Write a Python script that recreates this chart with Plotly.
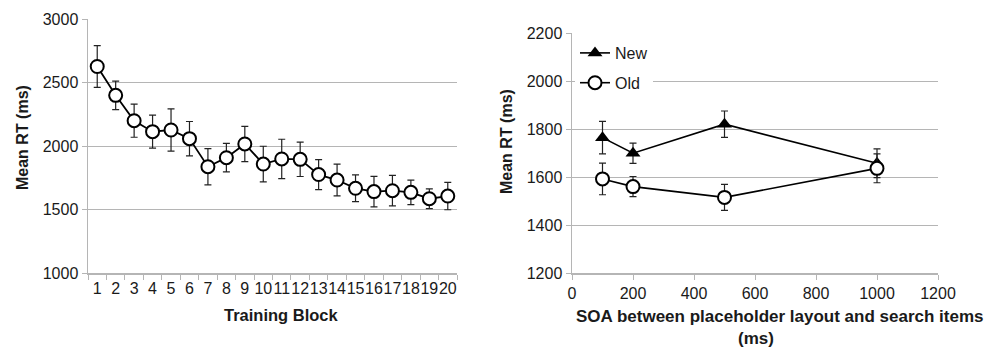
import plotly.graph_objects as go

# ---- data: left panel (training blocks) ----
blocks = [str(i) for i in range(1, 21)]
block_rt = [2626, 2399, 2199, 2113, 2126, 2058, 1837, 1908, 2016, 1858,
            1898, 1895, 1775, 1732, 1667, 1641, 1648, 1635, 1585, 1606]
block_err = [165, 112, 130, 130, 167, 135, 143, 112, 139, 140,
             155, 135, 118, 125, 105, 120, 120, 97, 78, 108]

# ---- data: right panel (SOA) ----
soa = [100, 200, 500, 1000]
new_rt = [1764, 1699, 1820, 1657]
new_err = [68, 42, 55, 60]
old_rt = [1592, 1560, 1515, 1636]
old_err = [66, 42, 54, 60]

W, H = 995, 347
FONT = "Liberation Sans, Arial, Helvetica, sans-serif"
GRID = "#b5b5b5"
TXT = "#1a1a1a"

def px(x):
    return x / W

def py(y):
    return 1 - y / H

fig = go.Figure()

marker_circle = dict(symbol="circle", size=13, color="white",
                     line=dict(color="black", width=2))

fig.add_trace(go.Scatter(
    x=blocks, y=block_rt, mode="lines+markers",
    line=dict(color="black", width=1.8),
    marker=marker_circle,
    error_y=dict(type="data", array=block_err, visible=True,
                 color="#222", thickness=1.2, width=3.5),
    xaxis="x", yaxis="y", showlegend=False))

fig.add_trace(go.Scatter(
    x=soa, y=new_rt, mode="lines+markers", name="New", legendgroup="new",
    line=dict(color="black", width=1.6),
    marker=dict(symbol="triangle-up", size=13, color="black"),
    error_y=dict(type="data", array=new_err, visible=True,
                 color="#222", thickness=1.2, width=3.5),
    xaxis="x2", yaxis="y2"))

fig.add_trace(go.Scatter(
    x=soa, y=old_rt, mode="lines+markers", name="Old", legendgroup="old",
    line=dict(color="black", width=1.6),
    marker=marker_circle,
    error_y=dict(type="data", array=old_err, visible=True,
                 color="#222", thickness=1.2, width=3.5),
    xaxis="x2", yaxis="y2"))

axis_common = dict(showline=True, linecolor=GRID, linewidth=1.5,
                   ticks="outside", ticklen=5, tickcolor=GRID, tickwidth=1,
                   tickfont=dict(family=FONT, size=16, color=TXT),
                   zeroline=False, automargin=False)

fig.update_layout(
    width=W, height=H, autosize=False,
    margin=dict(l=0, r=0, t=0, b=0, pad=0),
    paper_bgcolor="white", plot_bgcolor="white",
    font=dict(family=FONT, color=TXT),
    xaxis=dict(domain=[px(88), px(457)], anchor="y",
               type="category", tickson="boundaries", showgrid=False,
               tickangle=0, tickmode="array", tickvals=blocks, ticktext=blocks,
               range=[-0.5, 19.5], **axis_common),
    yaxis=dict(domain=[py(273), py(19)], anchor="x",
               range=[1000, 3000], tickvals=[1000, 1500, 2000, 2500, 3000],
               showgrid=True, gridcolor=GRID, gridwidth=1, **axis_common),
    xaxis2=dict(domain=[px(572), px(938)], anchor="y2",
                range=[0, 1200], tickvals=[0, 200, 400, 600, 800, 1000, 1200],
                showgrid=False, **axis_common),
    yaxis2=dict(domain=[py(273), py(33)], anchor="x2",
                range=[1200, 2200], tickvals=[1200, 1400, 1600, 1800, 2000, 2200],
                showgrid=True, gridcolor=GRID, gridwidth=1, **axis_common),
    legend=dict(x=px(575), y=py(36), xanchor="left", yanchor="top",
                bgcolor="white", borderwidth=0,
                font=dict(family=FONT, size=16, color=TXT),
                itemwidth=30, tracegroupgap=6),
    showlegend=True,
)

annotations = [
    dict(text="<b>Mean RT (ms)</b>", x=px(22), y=py(138), textangle=-90, size=16),
    dict(text="<b>Training Block</b>", x=px(281), y=py(315), size=16.5),
    dict(text="<b>Mean RT (ms)</b>", x=px(506), y=py(142), textangle=-90, size=16),
    dict(text="<b>SOA between placeholder layout and search items</b>", x=px(780), y=py(316), size=17),
    dict(text="<b>(ms)</b>", x=px(756), y=py(338), size=17),
]
for a in annotations:
    size = a.pop("size")
    fig.add_annotation(xref="paper", yref="paper", showarrow=False,
                       xanchor="center", yanchor="middle",
                       font=dict(family=FONT, size=size, color=TXT), **a)

fig.write_html("out.html",
               config={"displayModeBar": False, "staticPlot": True},
               post_script="document.body.style.margin='0';document.body.style.overflow='hidden';")
